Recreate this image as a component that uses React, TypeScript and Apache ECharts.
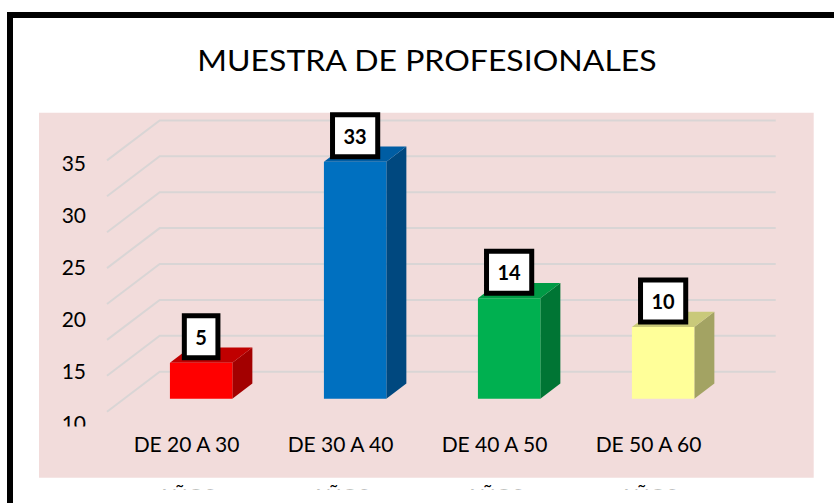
import React, { useEffect, useRef } from "react";
import * as echarts from "echarts";

const TITLE = "MUESTRA DE PROFESIONALES";
const categories = ["DE 20 A 30", "DE 30 A 40", "DE 40 A 50", "DE 50 A 60"];
const subLabel = "AÑOS";
const values = [5, 33, 14, 10];
const frontColors = ["#FF0000", "#0070C0", "#00B050", "#FFFF99"];
const topColors = ["#C00000", "#005DA3", "#009A45", "#C9C97A"];
const sideColors = ["#A30000", "#00487F", "#007534", "#A3A363"];
const gridValues = [0, 5, 10, 15, 20, 25, 30, 35];
const axisTickMin = 10;
const axisTickMax = 40;
const axisTickStep = 5;

const PINK = "#F2DCDB";
const DX = 52.7;
const DY = -40;
const F0 = 0.325;
const F1 = 0.705;
const HALF = 31.2;

export default function App() {
  const ref = useRef<HTMLDivElement>(null);
  useEffect(() => {
    if (!ref.current) return;
    const chart = echarts.init(ref.current, undefined, { renderer: "svg" });
    const option: any = {
      animation: false,
      grid: [
        { left: 107, width: 616, top: 124.5, height: 287.2 },
        { left: 94, width: 10, top: 110.9, height: 312 },
      ],
      xAxis: [
        {
          type: "category",
          gridIndex: 0,
          data: categories,
          axisLine: { show: false },
          axisTick: { show: false },
          axisLabel: {
            margin: 21,
            fontFamily: "Lato",
            fontSize: 21,
            lineHeight: 21,
            color: "#000",
            padding: [0, 0, 0, 5],
          },
        },
        { type: "value", gridIndex: 1, show: false },
      ],
      yAxis: [
        { type: "value", gridIndex: 0, min: 0, max: 40, show: false },
        {
          type: "value",
          gridIndex: 1,
          min: axisTickMin,
          max: axisTickMax,
          interval: axisTickStep,
          axisLine: { show: false },
          axisTick: { show: false },
          splitLine: { show: false },
          axisLabel: {
            showMaxLabel: false,
            margin: 8,
            fontFamily: "Lato",
            fontSize: 21,
            color: "#000",
          },
        },
      ],
      graphic: [
        {
          type: "rect",
          z: -1,
          shape: { x: 39, y: 112.7, width: 774.7, height: 365 },
          style: { fill: PINK },
        },
        {
          type: "rect",
          z: 50,
          shape: { x: 55, y: 426.5, width: 40, height: 9 },
          style: { fill: PINK },
        },
        {
          type: "text",
          z: 50,
          x: 427,
          y: 59.2,
          scaleY: 0.9,
          style: {
            text: TITLE,
            font: "32px Lato",
            fill: "#000",
            align: "center",
            verticalAlign: "middle",
          },
        },
        {
          type: "polyline",
          z: 60,
          shape: { points: [[10, 520], [10, 15], [850, 15]] },
          style: { stroke: "#000", lineWidth: 6, fill: "none" },
        },
      ],
      series: [
        {
          type: "custom",
          xAxisIndex: 0,
          yAxisIndex: 0,
          z: 1,
          data: gridValues.map((v) => [0, v]),
          encode: { x: 0, y: 1 },
          renderItem: (params: any, api: any) => {
            const p = api.coord([0, api.value(1)]);
            const cs = params.coordSys;
            return {
              type: "polyline",
              shape: {
                points: [
                  [cs.x, p[1]],
                  [cs.x + DX, p[1] + DY],
                  [cs.x + cs.width + DX, p[1] + DY],
                ],
              },
              style: { stroke: "#D9D5D5", lineWidth: 2, fill: "none" },
            };
          },
        },
        {
          type: "custom",
          xAxisIndex: 0,
          yAxisIndex: 0,
          z: 3,
          data: values.map((v, i) => [i, v]),
          encode: { x: 0, y: 1 },
          renderItem: (params: any, api: any) => {
            const i = api.value(0);
            const v = api.value(1);
            const base = api.coord([i, 0]);
            const top = api.coord([i, v]);
            const c = base[0];
            const xl = c - HALF + F0 * DX;
            const xr = c + HALF + F0 * DX;
            const yb = base[1] + F0 * DY;
            const yt = top[1] + F0 * DY;
            const bxl = c - HALF + F1 * DX;
            const bxr = c + HALF + F1 * DX;
            const byb = base[1] + F1 * DY;
            const byt = top[1] + F1 * DY;
            return {
              type: "group",
              children: [
                {
                  type: "polygon",
                  shape: { points: [[xr, yb], [bxr, byb], [bxr, byt], [xr, yt]] },
                  style: { fill: sideColors[i] },
                },
                {
                  type: "polygon",
                  shape: { points: [[xl, yt], [xr, yt], [bxr, byt], [bxl, byt]] },
                  style: { fill: topColors[i] },
                },
                {
                  type: "rect",
                  shape: { x: xl, y: yt, width: xr - xl, height: yb - yt },
                  style: { fill: frontColors[i] },
                },
                {
                  type: "text",
                  style: {
                    text: String(v),
                    x: (xl + xr) / 2,
                    y: yt - 7.5,
                    align: "center",
                    verticalAlign: "bottom",
                    font: "bold 20px Lato",
                    lineHeight: 20,
                    fill: "#000",
                    backgroundColor: "#fff",
                    borderColor: "#000",
                    borderWidth: 5,
                    padding: [8.5, 8.5, 8.5, 8.5],
                  },
                },
              ],
            };
          },
        },
        {
          type: "custom",
          xAxisIndex: 0,
          yAxisIndex: 0,
          z: 3,
          data: categories.map((_, i) => [i, 0]),
          encode: { x: 0, y: 1 },
          renderItem: (params: any, api: any) => {
            const p = api.coord([api.value(0), 0]);
            return {
              type: "text",
              style: {
                text: subLabel,
                x: p[0] + 2.5,
                y: p[1] + 84,
                align: "center",
                verticalAlign: "middle",
                font: "21px Lato",
                fill: "#000",
              },
              clipPath: {
                type: "rect",
                shape: { x: 0, y: p[1] + 66, width: 900, height: 11.5 },
              },
            };
          },
        },
      ],
    };
    chart.setOption(option);
    return () => chart.dispose();
  }, []);
  return (
    <div
      ref={ref}
      style={{ position: "fixed", left: 0, top: 0, width: 834, height: 503, background: "#fff" }}
    />
  );
}
